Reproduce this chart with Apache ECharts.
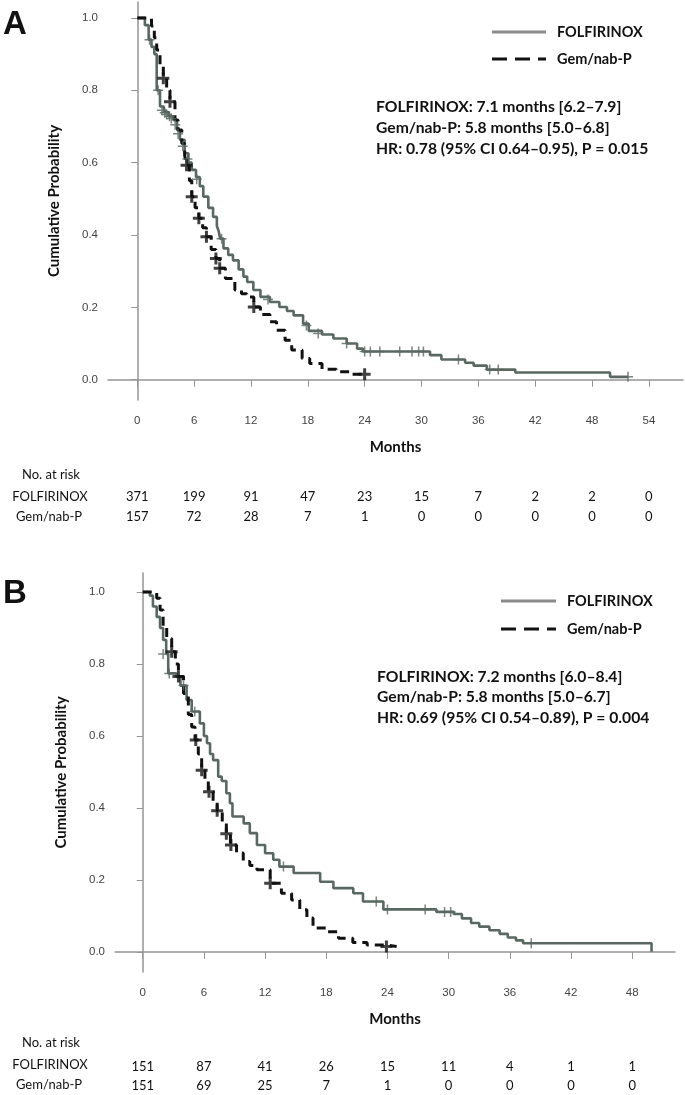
<!DOCTYPE html>
<html>
<head>
<meta charset="utf-8">
<script src="https://cdn.jsdelivr.net/npm/echarts@6/dist/echarts.min.js"></script>
<style>
  html, body { margin: 0; padding: 0; background: #fff; }
  #chart { width: 685px; height: 1095px; }
</style>
</head>
<body>
<div id="chart"></div>
<script>
// tick labels
const monthTicksA = [0, 6, 12, 18, 24, 30, 36, 42, 48, 54];
const monthTicksB = [0, 6, 12, 18, 24, 30, 36, 42, 48];
const probTicks = [0, 0.2, 0.4, 0.6, 0.8, 1.0];

// numbers at risk
const riskFolfA = [371, 199, 91, 47, 23, 15, 7, 2, 2, 0];
const riskGemA = [157, 72, 28, 7, 1, 0, 0, 0, 0, 0];
const riskFolfB = [151, 87, 41, 26, 15, 11, 4, 1, 1];
const riskGemB = [151, 69, 25, 7, 1, 0, 0, 0, 0];

// panel A - FOLFIRINOX step curve (time, survival after step)
const folfTimeA = [0, 0.8, 1.2, 1.5, 1.8, 2.05, 2.4, 2.8, 3.3, 3.8, 4.2, 4.5, 5.0, 5.4, 5.75, 6.2, 6.6, 6.97, 7.5, 8.0, 8.4, 8.6, 8.75, 9.1, 9.6, 10.1, 10.7, 11.2, 11.6, 12.25, 13.0, 14.0, 15.0, 15.8, 16.5, 17.5, 18.1, 19.5, 20.7, 22.1, 23.2, 23.8, 30.9, 32.1, 34.6, 35.5, 36.9, 39.9, 49.9, 51.8];
const folfSurvA = [1, 0.98, 0.94, 0.92, 0.90, 0.80, 0.755, 0.74, 0.728, 0.718, 0.69, 0.663, 0.626, 0.60, 0.58, 0.56, 0.535, 0.506, 0.475, 0.45, 0.425, 0.41, 0.39, 0.363, 0.345, 0.33, 0.305, 0.285, 0.27, 0.248, 0.229, 0.215, 0.201, 0.19, 0.178, 0.155, 0.135, 0.125, 0.114, 0.10, 0.086, 0.078, 0.068, 0.056, 0.047, 0.039, 0.028, 0.02, 0.008, 0.008];
const folfCensTA = [1.3, 2.2, 2.6, 2.9, 3.1, 3.4, 3.6, 4.0, 4.3, 4.8, 5.3, 6.27, 8.9, 13.8, 17.85, 19.1, 22.1, 24.0, 24.6, 25.6, 27.7, 29.0, 29.7, 30.2, 33.9, 37.2, 38.1, 51.8];
const folfCensSA = [0.94, 0.80, 0.745, 0.738, 0.733, 0.728, 0.722, 0.705, 0.68, 0.645, 0.61, 0.554, 0.39, 0.222, 0.15, 0.128, 0.10, 0.078, 0.078, 0.078, 0.078, 0.078, 0.078, 0.078, 0.056, 0.028, 0.028, 0.008];

// panel A - Gem/nab-P
const gemTimeA = [0, 1.5, 1.8, 2.05, 2.4, 2.75, 3.1, 3.45, 3.98, 4.3, 4.7, 5.0, 5.2, 5.5, 5.75, 6.1, 6.5, 6.9, 7.3, 7.8, 8.3, 8.7, 9.3, 10.3, 11.0, 11.55, 12.3, 13.0, 14.0, 14.7, 15.6, 16.3, 17.4, 18.2, 19.5, 21.0, 22.6, 24.0];
const gemSurvA = [1, 0.978, 0.945, 0.911, 0.87, 0.833, 0.80, 0.768, 0.718, 0.69, 0.653, 0.62, 0.593, 0.55, 0.506, 0.475, 0.446, 0.42, 0.395, 0.36, 0.335, 0.308, 0.28, 0.248, 0.238, 0.229, 0.201, 0.18, 0.16, 0.137, 0.109, 0.082, 0.059, 0.045, 0.029, 0.022, 0.015, 0.015];
const gemCensTA = [2.75, 3.45, 5.2, 5.75, 6.5, 7.3, 8.3, 8.7, 12.3, 24.0];
const gemCensSA = [0.833, 0.768, 0.593, 0.506, 0.446, 0.395, 0.335, 0.308, 0.201, 0.015];

// panel B - FOLFIRINOX
const folfTimeB = [0, 0.7, 1.0, 1.37, 1.7, 2.0, 2.3, 2.5, 3.3, 3.7, 4.3, 4.8, 5.6, 6.0, 6.3, 6.6, 6.9, 7.4, 7.75, 8.2, 8.55, 8.8, 9.9, 10.5, 11.2, 12.0, 12.8, 13.4, 14.8, 17.4, 18.7, 20.65, 21.6, 23.6, 28.8, 30.5, 31.3, 32.2, 33.0, 34.0, 35.0, 35.8, 36.6, 37.3, 49.9];
const folfSurvB = [1, 0.99, 0.96, 0.931, 0.90, 0.867, 0.828, 0.774, 0.765, 0.74, 0.70, 0.668, 0.635, 0.60, 0.58, 0.55, 0.533, 0.487, 0.475, 0.441, 0.413, 0.376, 0.357, 0.33, 0.297, 0.274, 0.256, 0.237, 0.219, 0.195, 0.177, 0.163, 0.14, 0.118, 0.111, 0.105, 0.093, 0.08, 0.07, 0.06, 0.05, 0.04, 0.032, 0.024, 0];
const folfCensTB = [2.0, 2.6, 4.0, 5.1, 13.8, 22.9, 24.0, 27.7, 29.6, 30.2, 38.1];
const folfCensSB = [0.828, 0.774, 0.74, 0.668, 0.237, 0.14, 0.118, 0.118, 0.111, 0.111, 0.024];

// panel B - Gem/nab-P
const gemTimeB = [0, 1.37, 1.7, 2.0, 2.35, 2.84, 3.2, 3.5, 4.0, 4.47, 4.8, 5.13, 5.45, 5.78, 6.1, 6.43, 6.9, 7.3, 7.8, 8.2, 8.6, 9.2, 9.86, 10.5, 11.2, 12.5, 13.6, 14.6, 15.4, 16.1, 16.7, 18.0, 19.2, 20.6, 22.0, 23.9, 24.9];
const gemSurvB = [1, 0.983, 0.95, 0.904, 0.871, 0.834, 0.80, 0.765, 0.718, 0.66, 0.625, 0.589, 0.55, 0.505, 0.475, 0.445, 0.42, 0.392, 0.36, 0.328, 0.297, 0.275, 0.251, 0.24, 0.228, 0.191, 0.163, 0.144, 0.117, 0.094, 0.066, 0.056, 0.038, 0.026, 0.019, 0.015, 0.015];
const gemCensTB = [2.84, 3.5, 5.2, 5.78, 6.5, 7.3, 8.2, 8.65, 12.5, 23.9];
const gemCensSB = [0.834, 0.765, 0.589, 0.505, 0.445, 0.392, 0.328, 0.297, 0.191, 0.015];

const zip = (a, b) => a.map((v, i) => [v, b[i]]);

const curveGray = '#5a6862';
const axisGray = '#959595';
const plusThin = 'path://M8.5,0h3v8.5h8.5v3h-8.5v8.5h-3v-8.5h-8.5v-3h8.5z';
const plusBold = 'path://M7.5,0h5v7.5h7.5v5h-7.5v7.5h-5v-7.5h-7.5v-5h7.5z';
const tickFont = { fontFamily: 'Liberation Sans', fontSize: 11.5, color: '#444' };
const riskFont = { fontFamily: 'Lato', fontSize: 13, color: '#111' };
const boldFont = 'Lato';

const chart = echarts.init(document.getElementById('chart'), null, { renderer: 'canvas' });

// main months axis
function monthAxis(grid, min, max, ticks) {
  return {
    type: 'value', gridIndex: grid, min: min, max: max,
    name: 'Months', nameLocation: 'middle', nameGap: 40,
    nameTextStyle: { fontFamily: boldFont, fontWeight: 'bold', fontSize: 15, color: '#111' },
    axisLine: { lineStyle: { color: axisGray, width: 1.5 } },
    axisTick: { length: 7, customValues: ticks, lineStyle: { color: axisGray } },
    axisLabel: Object.assign({ customValues: ticks, margin: 15 }, tickFont),
    splitLine: { show: false }
  };
}
// risk table row as a hidden axis
function riskAxis(grid, min, max, ticks, counts, offset) {
  return {
    type: 'value', gridIndex: grid, min: min, max: max, position: 'bottom', offset: offset,
    axisLine: { show: false }, axisTick: { show: false }, splitLine: { show: false },
    axisLabel: Object.assign({
      customValues: ticks, margin: 0,
      formatter: v => String(counts[Math.round(v / 6)])
    }, riskFont)
  };
}
function probAxis(grid, max) {
  return {
    type: 'value', gridIndex: grid, min: -0.056, max: max,
    name: 'Cumulative Probability', nameLocation: 'middle', nameGap: 46,
    nameTextStyle: { fontFamily: boldFont, fontWeight: 'bold', fontSize: 15, color: '#111' },
    axisLine: { show: true, lineStyle: { color: axisGray, width: 1.5 } },
    axisTick: { show: true, length: 6, customValues: probTicks, lineStyle: { color: axisGray } },
    axisLabel: Object.assign({ customValues: probTicks, margin: 10, formatter: v => v.toFixed(1) }, tickFont),
    splitLine: { show: false }
  };
}

function stepLine(x, y, data, dashed) {
  return {
    type: 'line', xAxisIndex: x, yAxisIndex: y, data: data, step: 'end',
    showSymbol: false, silent: true, z: dashed ? 3 : 2,
    lineStyle: dashed ? { color: '#111', width: 3, type: [9, 6] } : { color: curveGray, width: 2.6 }
  };
}
function censor(x, y, data, bold) {
  return {
    type: 'scatter', xAxisIndex: x, yAxisIndex: y, data: data, silent: true, z: 4,
    symbol: bold ? plusBold : plusThin, symbolSize: bold ? 12 : 10,
    itemStyle: { color: bold ? '#111' : curveGray }
  };
}

function txt(x, y, s, opt) {
  return {
    type: 'text', x: x, y: y, silent: true,
    style: Object.assign({ text: s, fontFamily: boldFont, fontSize: 14.5, fontWeight: 'bold', fill: '#111',
      textVerticalAlign: 'middle', verticalAlign: 'middle' }, opt || {})
  };
}
const note = (x, y, s) => txt(x, y, s, { fontSize: 15.7 });
function legendLine(x1, x2, y, dashed) {
  return {
    type: 'line', silent: true,
    shape: { x1: x1, y1: y, x2: x2, y2: y },
    style: dashed ? { stroke: '#111', lineWidth: 3, lineDash: [15, 8] } : { stroke: '#8c8c8c', lineWidth: 3 }
  };
}
const riskLabels = (yTop) => [
  txt(51, yTop, 'No. at risk', { fontWeight: 'normal', fontSize: 13, textAlign: 'center', align: 'center' }),
  txt(50, yTop + 22, 'FOLFIRINOX', { fontWeight: 'normal', fontSize: 13, textAlign: 'center', align: 'center' }),
  txt(49, yTop + 42, 'Gem/nab-P', { fontWeight: 'normal', fontSize: 13, textAlign: 'center', align: 'center' })
];

const option = {
  animation: false,
  backgroundColor: '#fff',
  grid: [
    { left: 108, top: 2, width: 575, height: 398 },
    { left: 115, top: 573, width: 560, height: 399 }
  ],
  xAxis: [
    monthAxis(0, -3.09, 57.6, monthTicksA),
    riskAxis(0, -3.09, 57.6, monthTicksA, riskFolfA, 90),
    riskAxis(0, -3.09, 57.6, monthTicksA, riskGemA, 110),
    monthAxis(1, -2.72, 52.2, monthTicksB),
    riskAxis(1, -2.72, 52.2, monthTicksB, riskFolfB, 88),
    riskAxis(1, -2.72, 52.2, monthTicksB, riskGemB, 107)
  ],
  yAxis: [probAxis(0, 1.044), probAxis(1, 1.053)],
  series: [
    stepLine(0, 0, zip(folfTimeA, folfSurvA), false),
    stepLine(0, 0, zip(gemTimeA, gemSurvA), true),
    censor(0, 0, zip(folfCensTA, folfCensSA), false),
    censor(0, 0, zip(gemCensTA, gemCensSA), true),
    stepLine(3, 1, zip(folfTimeB, folfSurvB), false),
    stepLine(3, 1, zip(gemTimeB, gemSurvB), true),
    censor(3, 1, zip(folfCensTB, folfCensSB), false),
    censor(3, 1, zip(gemCensTB, gemCensSB), true)
  ],
  graphic: [
    txt(3, 25, 'A', { fontSize: 33, fontFamily: 'Liberation Sans' }),
    txt(3, 594, 'B', { fontSize: 33, fontFamily: 'Liberation Sans' }),
    legendLine(492, 546, 32, false), txt(557, 32, 'FOLFIRINOX'),
    legendLine(492, 546, 59, true), txt(557, 59, 'Gem/nab-P'),
    note(376, 107, 'FOLFIRINOX: 7.1 months [6.2\u20137.9]'),
    note(376, 128, 'Gem/nab-P: 5.8 months [5.0\u20136.8]'),
    note(376, 149, 'HR: 0.78 (95% CI 0.64\u20130.95), P = 0.015'),
    legendLine(501, 556, 601, false), txt(567, 601, 'FOLFIRINOX'),
    legendLine(501, 556, 629, true), txt(567, 629, 'Gem/nab-P'),
    note(377, 677, 'FOLFIRINOX: 7.2 months [6.0\u20138.4]'),
    note(377, 697, 'Gem/nab-P: 5.8 months [5.0\u20136.7]'),
    note(377, 718, 'HR: 0.69 (95% CI 0.54\u20130.89), P = 0.004')
  ].concat(riskLabels(475), riskLabels(1043))
};
chart.setOption(option);
</script>
</body>
</html>
